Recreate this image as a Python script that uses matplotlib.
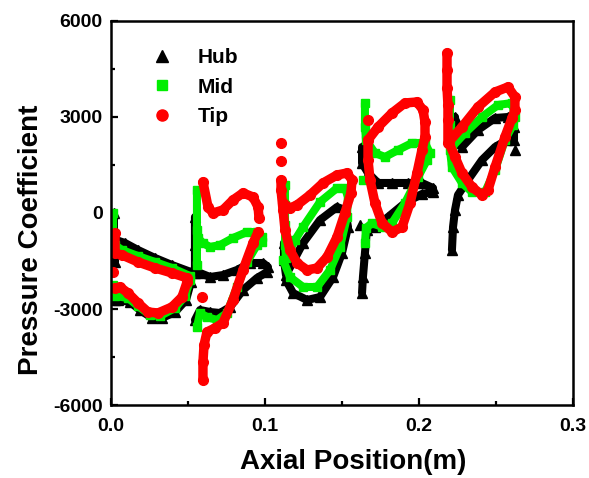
import numpy as np
import matplotlib
matplotlib.use("Agg")
import matplotlib.pyplot as plt
from matplotlib.lines import Line2D
from matplotlib.ticker import MultipleLocator

nan = np.nan

# ---- Blade-surface pressure coefficient, five blade rows, three spans ----
# Each row: a path around the blade (leading edge -> one surface -> trailing
# edge -> other surface); nan breaks the path for stray points.

# Hub
hub_row1_x = [0.0019, 0.0019, 0.0026, nan, 0.0032, 0.0091, 0.0175, 0.0286, 0.0396, 0.0519, 0.0519,
              0.0487, 0.0416, 0.0331, 0.0266, 0.0188, 0.0123, 0.0045, 0.0026]
hub_row1_y = [0, -688, -1531, nan, -844, -938, -1156, -1406, -1625, -1844, -2156,
              -2719, -3094, -3281, -3281, -3031, -2781, -2719, -2719]
hub_row2_x = [0.0545, 0.0545, 0.0545, 0.0578, 0.0643, 0.0727, 0.0818, 0.0903, 0.0987, 0.1019,
              0.1013, 0.0948, 0.0857, 0.0773, 0.0708, 0.0643, 0.0578, 0.0545]
hub_row2_y = [-125, -1000, -1875, -1875, -2000, -1938, -1781, -1562, -1562, -1688,
              -1844, -2031, -2406, -2938, -3125, -3094, -3031, -3344]
hub_row3_x = [0.1123, 0.1123, 0.1136, 0.1195, 0.1247, 0.1357, 0.1468, 0.1519, 0.1539, 0.1500,
              0.1442, 0.1357, 0.1273, 0.1182, 0.1136]
hub_row3_y = [-938, -1469, -1938, -1406, -938, -219, 188, 94, -438, -1250,
              -2000, -2625, -2719, -2500, -2094]
hub_row4_x = [0.1630, 0.1630, 0.1669, 0.1734, 0.1825, 0.1929, 0.2019, 0.2091, 0.2091, 0.2019,
              0.1909, 0.1799, 0.1714, 0.1662, 0.1649, 0.1636, 0.1630, nan, 0.1617]
hub_row4_y = [2062, 1562, 1250, 938, 938, 938, 938, 781, 656, 594,
              312, -125, -438, -531, -1250, -2000, -2500, nan, -375]
hub_row5_x = [0.2234, 0.2234, 0.2247, 0.2279, 0.2383, 0.2494, 0.2578, 0.2617, 0.2617, 0.2571,
              0.2494, 0.2409, 0.2318, 0.2253, 0.2234, 0.2221, 0.2214, nan, 0.2623]
hub_row5_y = [3000, 2500, 2188, 2062, 2594, 2969, 3000, 2688, 2281, 2281,
              2062, 1656, 1031, 562, 94, -438, -1156, nan, 1969]

# Mid span
mid_row1_x = [0.0013, 0.0013, 0.0026, 0.0071, 0.0175, 0.0286, 0.0396, 0.0513, 0.0513, 0.0481,
              0.0416, 0.0318, 0.0253, 0.0175, 0.0110, 0.0026, 0.0013]
mid_row1_y = [0, -688, -1000, -1156, -1344, -1531, -1719, -1969, -2094, -2594,
              -2969, -3219, -3188, -2906, -2656, -2594, -2250]
mid_row2_x = [0.0558, 0.0558, 0.0558, nan, 0.0565, 0.0597, 0.0643, 0.0708, 0.0792, 0.0883, 0.0948,
              0.0981, 0.0981, 0.0948, 0.0883, 0.0818, 0.0753, 0.0688, 0.0623, 0.0578, 0.0558]
mid_row2_y = [719, -531, -1625, nan, -781, -938, -1062, -1000, -781, -594, -594,
              -750, -906, -1000, -1531, -2312, -3125, -3344, -3250, -3125, -3562]
mid_row3_x = [0.1130, 0.1130, 0.1130, 0.1130, 0.1136, 0.1195, 0.1247, 0.1357, 0.1468, 0.1519,
              0.1539, 0.1532, 0.1487, 0.1422, 0.1338, 0.1247, 0.1162, 0.1117]
mid_row3_y = [875, 250, -375, -1000, -1406, -844, -438, 344, 781, 781,
              500, -125, -1062, -1781, -2312, -2312, -2000, -1469]
mid_row4_x = [0.1649, 0.1649, 0.1656, 0.1714, 0.1779, 0.1864, 0.1955, 0.2039, 0.2071, 0.2052,
              0.1994, 0.1909, 0.1825, 0.1760, 0.1695, 0.1656, 0.1649, nan, 0.1636]
mid_row4_y = [3438, 2688, 2281, 1875, 1750, 1969, 2188, 2188, 1875, 1656,
              1125, 312, -312, -438, -312, -469, -938, nan, 1031]
mid_row5_x = [0.2201, 0.2201, 0.2214, 0.2299, 0.2409, 0.2513, 0.2604, 0.2623, 0.2610, 0.2558,
              0.2494, 0.2429, 0.2344, 0.2279, 0.2214, 0.2201]
mid_row5_y = [3531, 2750, 2062, 2500, 3000, 3375, 3438, 3000, 2750, 2281,
              1344, 656, 656, 938, 1438, 1969]

# Tip
tip_row1_x = [0.0026, 0.0026, 0.0071, 0.0175, 0.0286, 0.0396, 0.0494, 0.0494, 0.0461, 0.0396,
              0.0305, 0.0240, 0.0175, 0.0110, 0.0058, 0.0026, nan, 0.0013]
tip_row1_y = [-625, -1250, -1312, -1531, -1719, -1875, -2031, -2156, -2625, -2937,
              -3125, -3094, -2812, -2500, -2312, -2344, nan, -1844]
tip_row2_x = [0.0597, 0.0630, 0.0662, 0.0727, 0.0792, 0.0857, 0.0922, 0.0955, 0.0961, nan,
              0.0955, 0.0922, 0.0857, 0.0792, 0.0727, 0.0675, 0.0623, 0.0604, 0.0597, 0.0597,
              nan, 0.0591]
tip_row2_y = [969, 188, 0, 94, 406, 625, 500, 188, -156, nan,
              -594, -938, -1781, -2719, -3438, -3594, -3719, -4125, -4656, -5219,
              nan, -2625]
tip_row3_x = [0.1117, 0.1162, 0.1208, 0.1292, 0.1377, 0.1468, 0.1532, 0.1565, 0.1558, 0.1519,
              0.1468, 0.1403, 0.1338, 0.1273, 0.1208, 0.1162, 0.1130, 0.1117, 0.1104, 0.1104,
              nan, 0.1104, nan, 0.1104]
tip_row3_y = [312, 156, 250, 562, 938, 1188, 1250, 1031, 625, 0,
              -750, -1375, -1719, -1781, -1562, -1156, -531, 94, 719, 1031,
              nan, 1625, nan, 2188]
tip_row4_x = [0.1669, 0.1734, 0.1825, 0.1909, 0.1987, 0.2026, 0.2039, 0.2039, 0.2019, 0.1987,
              0.1942, 0.1890, 0.1825, 0.1760, 0.1714, 0.1682, 0.1669, 0.1669, nan, 0.1669]
tip_row4_y = [2281, 2688, 3125, 3438, 3469, 3219, 2844, 2375, 1969, 1250,
              312, -438, -594, -312, 312, 1031, 1656, 2281, nan, 2906]
tip_row5_x = [0.2182, 0.2182, 0.2182, 0.2188, 0.2188, 0.2188, 0.2279, 0.2383, 0.2494, 0.2578,
              0.2623, 0.2623, 0.2604, 0.2558, 0.2494, 0.2448, 0.2409, 0.2344, 0.2279, 0.2234,
              0.2195]
tip_row5_y = [5000, 4469, 3906, 3375, 2906, 2188, 2688, 3312, 3781, 3938,
              3625, 3219, 2969, 2375, 1438, 719, 562, 812, 1250, 1750,
              2188]

spans = [
    ("Hub", "black", "^", 7.2, 5.8,
     [(hub_row1_x, hub_row1_y), (hub_row2_x, hub_row2_y), (hub_row3_x, hub_row3_y),
      (hub_row4_x, hub_row4_y), (hub_row5_x, hub_row5_y)]),
    ("Mid", "#00ee00", "s", 5.8, 5.8,
     [(mid_row1_x, mid_row1_y), (mid_row2_x, mid_row2_y), (mid_row3_x, mid_row3_y),
      (mid_row4_x, mid_row4_y), (mid_row5_x, mid_row5_y)]),
    ("Tip", "#ff0000", "o", 7.0, 6.8,
     [(tip_row1_x, tip_row1_y), (tip_row2_x, tip_row2_y), (tip_row3_x, tip_row3_y),
      (tip_row4_x, tip_row4_y), (tip_row5_x, tip_row5_y)]),
]

plt.rcParams["font.family"] = ["Liberation Sans", "DejaVu Sans"]
plt.rcParams["font.weight"] = "bold"
plt.rcParams["axes.unicode_minus"] = False

fig = plt.figure(figsize=(5.89, 4.78), dpi=100)
ax = fig.add_axes([0.1885, 0.1527, 0.7843, 0.8034])

for name, color, marker, ms, lw, rows in spans:
    for xs, ys in rows:
        ax.plot(xs, ys, color=color, lw=lw, marker=marker, ms=ms, mec=color, mfc=color,
                solid_capstyle="round", solid_joinstyle="round")

ax.set_xlim(0, 0.3)
ax.set_ylim(-6000, 6000)
ax.set_xticks([0, 0.1, 0.2, 0.3])
ax.set_xticklabels(["0.0", "0.1", "0.2", "0.3"])
ax.set_yticks([-6000, -3000, 0, 3000, 6000])
ax.xaxis.set_minor_locator(MultipleLocator(0.05))
ax.yaxis.set_minor_locator(MultipleLocator(1500))
ax.tick_params(which="major", direction="in", length=5, width=1.6, labelsize=14, pad=6)
ax.tick_params(axis="x", which="major", pad=9)
ax.tick_params(which="minor", direction="in", length=3, width=1.6)
for lab in ax.get_xticklabels() + ax.get_yticklabels():
    lab.set_fontweight("bold")
for sp in ax.spines.values():
    sp.set_linewidth(1.8)

ax.set_xlabel("Axial Position(m)", fontsize=20, fontweight="bold")
ax.set_ylabel("Pressure Coefficient", fontsize=20, fontweight="bold")
ax.xaxis.set_label_coords(0.524, -0.115)
ax.yaxis.set_label_coords(-0.145, 0.43)

handles = [Line2D([], [], ls="none", marker="^", ms=9, color="black"),
           Line2D([], [], ls="none", marker="s", ms=7, color="#00ee00"),
           Line2D([], [], ls="none", marker="o", ms=8, color="#ff0000")]
ax.legend(handles, ["Hub", "Mid", "Tip"], loc="upper left", bbox_to_anchor=(0.048, 0.978),
          frameon=False, handlelength=1.0, handletextpad=1.2, labelspacing=0.5,
          prop={"size": 15, "weight": "bold"})

fig.savefig("out.png", dpi=100)
